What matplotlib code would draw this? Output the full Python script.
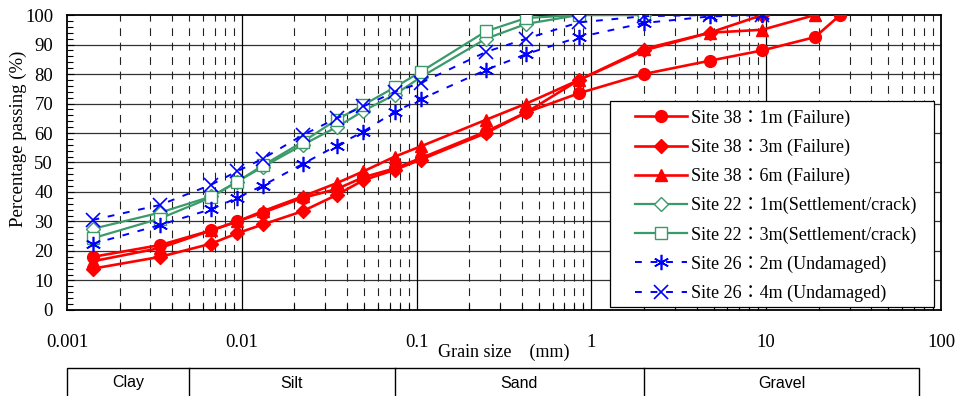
import matplotlib
matplotlib.use('Agg')
import matplotlib.pyplot as plt
import matplotlib.transforms as mtransforms
from matplotlib.patches import Rectangle
from matplotlib.ticker import FixedLocator, MultipleLocator, NullFormatter, LogLocator

plt.rcParams['font.family'] = ['Liberation Serif', 'Noto Sans CJK JP']

### Datos (grain size in mm, percentage passing in %)
hydro = [0.0014, 0.0034, 0.0067, 0.0094, 0.0132, 0.0223, 0.0349, 0.0496]
sieve = [0.075, 0.106, 0.25, 0.425, 0.85, 2, 4.75, 9.5, 19, 26.5]

site38_1m_d = hydro + sieve
site38_1m = [18, 22, 27, 30, 33, 38, 41, 45, 48, 51.5, 60.5, 67, 73.5, 80, 84.5, 88, 92.5, 100]

site38_3m_d = hydro + sieve[:8]
site38_3m = [14, 18, 22.5, 26, 29, 33.5, 39, 44, 47.5, 51, 60, 67, 78, 88, 94, 100]

site38_6m_d = hydro + sieve[:9]
site38_6m = [16.5, 21, 27, 30, 33.5, 38.5, 43, 47, 52, 55.5, 64.5, 70, 78, 88.5, 94, 95, 100]

site22_1m_d = hydro + sieve[:6]
site22_1m = [27.5, 33, 38.5, 43.5, 48.5, 56, 62, 67.5, 73, 79, 92, 97, 100, 100]

site22_3m_d = hydro + sieve[:6]
site22_3m = [24.3, 31, 38.2, 43.5, 49, 57, 64.5, 69.5, 75.5, 80.8, 94.5, 99, 100, 100]

site26_2m_d = hydro + sieve[:8]
site26_2m = [22.4, 28.8, 34.2, 38, 42.2, 49.5, 55.7, 60.5, 67.2, 71.5, 81.4, 86.8, 92.5, 97.3, 99.5, 100]

site26_4m_d = hydro + sieve[:8]
site26_4m = [30.5, 35.6, 42.5, 47, 51.3, 59.3, 65, 69, 74, 77, 87.5, 92, 97.5, 99.6, 100, 100]

x_ticks = [0.001, 0.01, 0.1, 1, 10, 100]
x_ticklabels = ['0.001', '0.01', '0.1', '1', '10', '100']

# soil classification (mm)
soil_bounds = [0.001, 0.005, 0.075, 2, 75]
soil_names = ['Clay', 'Silt', 'Sand', 'Gravel']

RED = '#ff0000'
GREEN = '#3a9a6a'
BLUE = '#0000ff'
DASH = (0, (3.5, 4.5))

fig = plt.figure(figsize=(9.57, 3.96), dpi=100)
ax = fig.add_axes([0.070, 0.2172, 0.9133, 0.7449])

# grid
for v in range(10, 100, 10):
    ax.axhline(v, color='#333333', lw=0.9, zorder=1)
for d in x_ticks[1:-1]:
    ax.axvline(d, color='black', lw=0.9, zorder=1)
for dec in [0.001, 0.01, 0.1, 1, 10]:
    for k in range(2, 10):
        ax.axvline(dec * k, color='#222222', lw=0.8, ls=(0, (7, 6)), zorder=1)

# Site 38 (failure)
ax.plot(site38_1m_d, site38_1m, color=RED, lw=1.9, marker='o', ms=8.5,
        label='Site 38：1m (Failure)', zorder=3)
ax.plot(site38_3m_d, site38_3m, color=RED, lw=1.9, marker='D', ms=7,
        label='Site 38：3m (Failure)', zorder=3)
ax.plot(site38_6m_d, site38_6m, color=RED, lw=1.9, marker='^', ms=9,
        label='Site 38：6m (Failure)', zorder=3)

# Site 22 (settlement / crack)
ax.plot(site22_1m_d, site22_1m, color=GREEN, lw=1.6, marker='D', ms=7,
        mfc='white', mec=GREEN, mew=1.0, label='Site 22：1m(Settlement/crack)', zorder=4)
ax.plot(site22_3m_d, site22_3m, color=GREEN, lw=1.6, marker='s', ms=8.5,
        mfc='white', mec=GREEN, mew=1.0, label='Site 22：3m(Settlement/crack)', zorder=4)

# Site 26 (undamaged)
ax.plot(site26_2m_d, site26_2m, color=BLUE, lw=1.4, ls=DASH, marker=(6, 2, 0), ms=11,
        mew=1.2, label='Site 26：2m (Undamaged)', zorder=5)
ax.plot(site26_4m_d, site26_4m, color=BLUE, lw=1.4, ls=DASH, marker='x', ms=10,
        mew=1.2, label='Site 26：4m (Undamaged)', zorder=5)

ax.set_xscale('log')
ax.set_xlim(0.001, 100)
ax.set_ylim(0, 100)

ax.xaxis.set_major_locator(FixedLocator(x_ticks))
ax.set_xticklabels(x_ticklabels)
ax.xaxis.set_minor_locator(LogLocator(base=10, subs=range(2, 10)))
ax.xaxis.set_minor_formatter(NullFormatter())
ax.yaxis.set_major_locator(MultipleLocator(10))
ax.yaxis.set_minor_locator(MultipleLocator(2))

ax.tick_params(axis='both', which='both', direction='in', top=False, right=False)
ax.tick_params(axis='x', which='major', length=0, pad=17, labelsize=13.5)
ax.tick_params(axis='x', which='minor', length=4, width=0.8)
ax.tick_params(axis='y', which='major', length=5, pad=10, labelsize=13.5)
ax.tick_params(axis='y', which='minor', length=4, width=0.8)
for s in ax.spines.values():
    s.set_linewidth(1.3)
    s.set_color('black')

# legend box drawn separately (wider side padding than matplotlib allows)
ax.add_patch(Rectangle((0.621, 0.01), 0.371, 0.70, transform=ax.transAxes,
                       facecolor='white', edgecolor='black', lw=0.9, zorder=9))
leg = ax.legend(loc='upper left', bbox_to_anchor=(0.650, 0.680), borderaxespad=0,
                fontsize=13, handlelength=2.9, handletextpad=0.2, labelspacing=0.66,
                borderpad=0, frameon=False, numpoints=1)
leg.set_zorder(10)

fig.text(18 / 957, 1 - 139 / 396, 'Percentage passing (%)', rotation=90,
         ha='center', va='center', fontsize=13.5)
fig.text(504 / 957, 1 - 352 / 396, 'Grain size　(mm)', ha='center', va='center', fontsize=13)

# classification table under the chart
trans = mtransforms.blended_transform_factory(ax.transData, fig.transFigure)
tab_top = 1 - 368 / 396
fig.patches.append(Rectangle((soil_bounds[0], -0.1), soil_bounds[-1] - soil_bounds[0],
                             tab_top + 0.1, transform=trans, fill=False,
                             edgecolor='black', lw=1.0, clip_on=False))
for b in soil_bounds[1:-1]:
    fig.add_artist(plt.Line2D([b, b], [-0.1, tab_top], transform=trans,
                              color='black', lw=1.0))
for lo, hi, name in zip(soil_bounds[:-1], soil_bounds[1:], soil_names):
    mid = (lo * hi) ** 0.5
    fig.text(mid, 1 - 383 / 396, name, transform=trans, ha='center', va='center',
             fontsize=11.5, family=['Liberation Sans', 'DejaVu Sans'])

fig.savefig('out.png', dpi=100)
